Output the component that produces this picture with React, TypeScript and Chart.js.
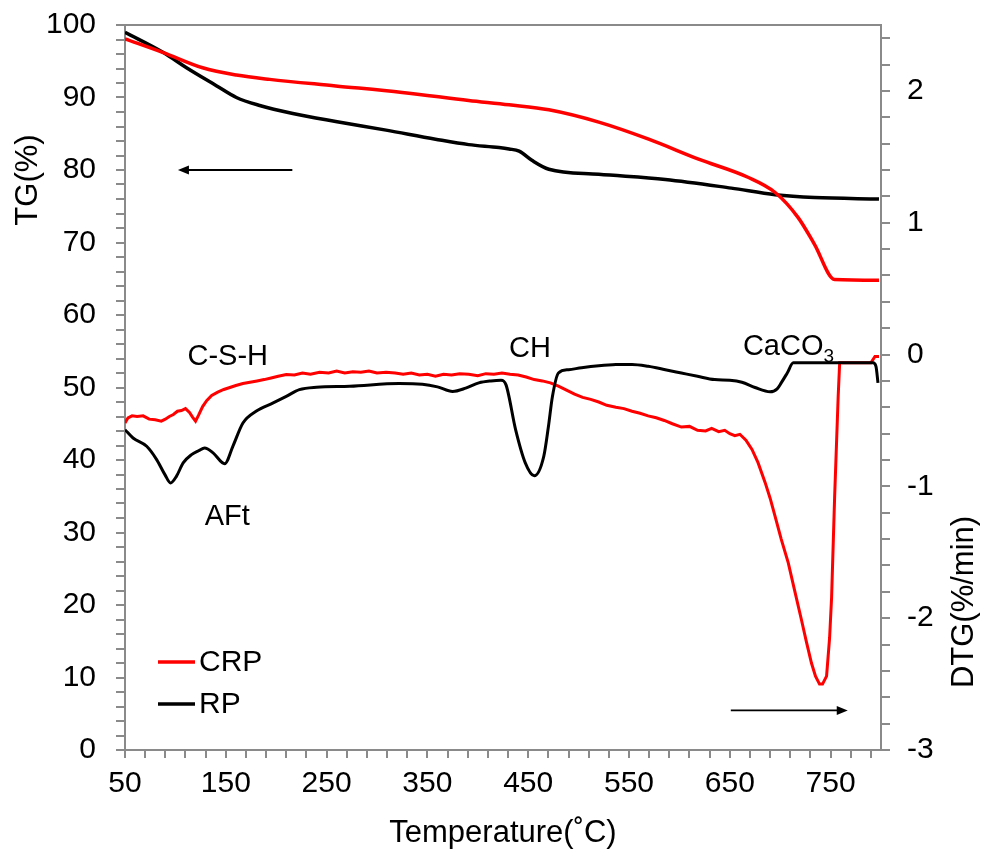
import React, { useEffect, useRef } from "react";
import { Chart, registerables } from "chart.js";

Chart.register(...registerables);

// ---------- data (temperature in °C) ----------
const TG_CRP_T = [50, 88, 127, 160.5, 193.5, 259, 325, 391, 431, 470.5, 520, 569.5, 619, 668, 695, 718, 734, 754, 798];
const TG_CRP = [98.1, 96.2, 94.1, 93.1, 92.5, 91.6, 90.7, 89.6, 89.0, 88.3, 86.6, 84.25, 81.5, 79.0, 76.9, 73.4, 69.75, 64.9, 64.8];

const TG_RP_T = [50, 88, 111, 141, 160.5, 183.6, 216.5, 259, 309, 358, 391, 421, 431, 441, 454, 470.5, 520, 586, 651.5, 695, 734, 798];
const TG_RP = [99.0, 96.2, 94.1, 91.6, 90.0, 88.9, 87.8, 86.7, 85.5, 84.25, 83.5, 83.1, 82.9, 82.6, 81.3, 80.1, 79.4, 78.7, 77.5, 76.6, 76.2, 76.0];

const DTG_CRP_T = [50, 53, 57, 62, 68, 74, 80, 86, 90, 94, 98, 102, 106, 110, 114, 117, 120, 123, 127, 131, 136, 142, 148, 154, 160, 167, 174, 181, 188, 195, 202, 210, 218, 226, 234, 243, 252, 260, 268, 276, 284, 292, 300, 309, 318, 326, 334, 342, 350, 358, 366, 374, 382, 391, 400, 408, 416, 424, 432, 440, 448, 456, 464, 472, 480, 488, 496, 504, 512, 520, 528, 537, 545, 553, 561, 569, 577, 585, 593, 602, 610, 618, 626, 632, 639, 645, 650, 655, 660, 666, 672, 678, 685, 690, 695, 701, 708, 714, 721, 726, 731, 735, 739, 742, 746, 749, 751, 754, 757.5, 759, 775, 790, 794, 798];
const DTG_CRP = [-0.52, -0.48, -0.465, -0.47, -0.465, -0.49, -0.495, -0.505, -0.49, -0.47, -0.455, -0.43, -0.425, -0.41, -0.44, -0.475, -0.505, -0.46, -0.395, -0.35, -0.31, -0.285, -0.265, -0.25, -0.235, -0.22, -0.21, -0.2, -0.19, -0.178, -0.165, -0.152, -0.155, -0.14, -0.15, -0.135, -0.14, -0.125, -0.14, -0.13, -0.135, -0.125, -0.14, -0.135, -0.14, -0.15, -0.14, -0.155, -0.15, -0.165, -0.15, -0.155, -0.145, -0.15, -0.16, -0.145, -0.15, -0.14, -0.15, -0.155, -0.17, -0.19, -0.2, -0.215, -0.24, -0.27, -0.3, -0.325, -0.34, -0.36, -0.385, -0.4, -0.41, -0.43, -0.445, -0.465, -0.48, -0.5, -0.525, -0.55, -0.545, -0.575, -0.58, -0.56, -0.585, -0.575, -0.6, -0.615, -0.605, -0.65, -0.72, -0.82, -0.97, -1.09, -1.23, -1.4, -1.58, -1.78, -2.01, -2.18, -2.34, -2.44, -2.5, -2.5, -2.44, -2.15, -1.84, -1.08, -0.32, -0.063, -0.063, -0.063, -0.015, -0.015];

const DTG_RP_T = [50, 58, 71.5, 81.4, 89.6, 95.2, 101, 107.7, 116, 123, 129, 137.4, 148.9, 157, 167, 180, 197, 210, 223, 240, 273, 322, 345, 360, 375, 388, 401, 413, 423, 428, 437.5, 447, 456, 465.5, 470, 474, 480, 490, 503, 520, 537, 553, 569, 586, 602, 618, 635, 650, 662, 675, 690, 697, 701, 707, 713, 730, 751, 770, 792, 795, 797];
const DTG_RP = [-0.57, -0.633, -0.696, -0.797, -0.911, -0.974, -0.924, -0.822, -0.759, -0.73, -0.709, -0.746, -0.828, -0.696, -0.519, -0.43, -0.367, -0.317, -0.266, -0.248, -0.241, -0.22, -0.225, -0.245, -0.28, -0.255, -0.215, -0.2, -0.195, -0.23, -0.57, -0.82, -0.92, -0.77, -0.55, -0.32, -0.14, -0.115, -0.1, -0.085, -0.076, -0.075, -0.089, -0.115, -0.14, -0.165, -0.19, -0.195, -0.21, -0.25, -0.283, -0.26, -0.215, -0.14, -0.063, -0.063, -0.063, -0.063, -0.063, -0.09, -0.215];

// ---------- tick labels ----------
const X_LABELS = [50, 150, 250, 350, 450, 550, 650, 750];
const X_MINOR_STEP = 20;
const Y_LABELS = [0, 10, 20, 30, 40, 50, 60, 70, 80, 90, 100];
const Y_MINOR_STEP = 2;
const Y2_LABELS = [-3, -2, -1, 0, 1, 2];
const Y2_MINOR_STEP = 0.2;

const FONT = "'Liberation Sans', Arial, Helvetica, sans-serif";
const AXIS_COLOR = "#8a8a8a";
const RED = "#ff0000";
const BLACK = "#000000";

function pts(xs: number[], ys: number[]) {
  return xs.map((x, i) => ({ x, y: ys[i] }));
}

function range(min: number, max: number, step: number) {
  const out: number[] = [];
  const n = Math.round((max - min) / step);
  for (let i = 0; i <= n; i++) out.push(Math.round((min + i * step) * 1000) / 1000);
  return out;
}

function zeroPad(s: any) {
  s.paddingTop = 0;
  s.paddingBottom = 0;
  s.paddingLeft = 0;
  s.paddingRight = 0;
}

function arrow(ctx: CanvasRenderingContext2D, x0: number, y0: number, x1: number, y1: number) {
  const dir = Math.sign(x1 - x0);
  ctx.beginPath();
  ctx.moveTo(x0, y0);
  ctx.lineTo(x1 - dir * 8, y1);
  ctx.stroke();
  ctx.beginPath();
  ctx.moveTo(x1, y1);
  ctx.lineTo(x1 - dir * 11, y1 - 4.5);
  ctx.lineTo(x1 - dir * 11, y1 + 4.5);
  ctx.closePath();
  ctx.fill();
}

const annotPlugin = {
  id: "annot",
  afterDraw(chart: any) {
    const { ctx, chartArea: ca, scales } = chart;
    const sx = scales.x, sy = scales.y, sy2 = scales.y2;
    ctx.save();
    // top frame
    ctx.strokeStyle = AXIS_COLOR;
    ctx.lineWidth = 2;
    ctx.beginPath();
    ctx.moveTo(ca.left, ca.top);
    ctx.lineTo(ca.right + 1, ca.top);
    ctx.stroke();

    // peak annotations
    ctx.fillStyle = BLACK;
    ctx.textAlign = "left";
    ctx.textBaseline = "alphabetic";
    ctx.font = `29px ${FONT}`;
    ctx.fillText("C-S-H", sx.getPixelForValue(112), sy2.getPixelForValue(-0.076));
    ctx.fillText("AFt", sx.getPixelForValue(129), sy2.getPixelForValue(-1.29));
    ctx.fillText("CH", sx.getPixelForValue(431), sy2.getPixelForValue(-0.015));
    const cx = sx.getPixelForValue(663);
    const cy = sy2.getPixelForValue(0);
    ctx.fillText("CaCO", cx, cy);
    const w = ctx.measureText("CaCO").width;
    ctx.font = `19px ${FONT}`;
    ctx.fillText("3", cx + w, cy + 7);

    // arrows
    ctx.strokeStyle = BLACK;
    ctx.fillStyle = BLACK;
    ctx.lineWidth = 1.8;
    arrow(ctx, sx.getPixelForValue(216), sy.getPixelForValue(80), sx.getPixelForValue(102.5), sy.getPixelForValue(80));
    arrow(ctx, sx.getPixelForValue(651), sy2.getPixelForValue(-2.7), sx.getPixelForValue(767), sy2.getPixelForValue(-2.7));

    // legend
    const lx = ca.left + 33;
    const rows = [
      { label: "CRP", color: RED, y: ca.bottom - 88 },
      { label: "RP", color: BLACK, y: ca.bottom - 46 },
    ];
    ctx.font = `30px ${FONT}`;
    ctx.textBaseline = "middle";
    rows.forEach((r) => {
      ctx.strokeStyle = r.color;
      ctx.lineWidth = 3.5;
      ctx.beginPath();
      ctx.moveTo(lx, r.y);
      ctx.lineTo(lx + 37, r.y);
      ctx.stroke();
      ctx.fillStyle = BLACK;
      ctx.fillText(r.label, lx + 41, r.y + 1);
    });

    // axis titles
    ctx.font = `31px ${FONT}`;
    ctx.textAlign = "center";
    ctx.textBaseline = "alphabetic";
    ctx.fillText("Temperature(˚C)", (ca.left + ca.right) / 2, ca.bottom + 92);
    ctx.textBaseline = "middle";
    ctx.save();
    ctx.translate(28, 180);
    ctx.rotate(-Math.PI / 2);
    ctx.fillText("TG(%)", 0, 0);
    ctx.restore();
    ctx.save();
    ctx.translate(964, 602);
    ctx.rotate(-Math.PI / 2);
    ctx.fillText("DTG(%/min)", 0, 0);
    ctx.restore();
    ctx.restore();
  },
};

export default function App() {
  const ref = useRef<HTMLCanvasElement>(null);
  useEffect(() => {
    const canvas = ref.current;
    if (!canvas) return;
    const tickFont = { family: FONT, size: 30 };
    const chart = new Chart(canvas, {
      type: "line",
      data: {
        datasets: [
          {
            label: "RP DTG",
            data: pts(DTG_RP_T, DTG_RP),
            yAxisID: "y2",
            borderColor: BLACK,
            borderWidth: 3,
            pointRadius: 0,
            cubicInterpolationMode: "monotone",
          },
          {
            label: "CRP DTG",
            data: pts(DTG_CRP_T, DTG_CRP),
            yAxisID: "y2",
            borderColor: RED,
            borderWidth: 3,
            pointRadius: 0,
            tension: 0,
          },
          {
            label: "CRP",
            data: pts(TG_CRP_T, TG_CRP),
            yAxisID: "y",
            borderColor: RED,
            borderWidth: 3.5,
            pointRadius: 0,
            cubicInterpolationMode: "monotone",
          },
          {
            label: "RP",
            data: pts(TG_RP_T, TG_RP),
            yAxisID: "y",
            borderColor: BLACK,
            borderWidth: 3.5,
            pointRadius: 0,
            cubicInterpolationMode: "monotone",
          },
        ],
      },
      options: {
        animation: false,
        responsive: false,
        maintainAspectRatio: false,
        layout: { padding: { top: 25, left: 0, right: 0, bottom: 0 } },
        plugins: { legend: { display: false }, tooltip: { enabled: false } },
        scales: {
          x: {
            type: "linear",
            min: 50,
            max: 800,
            afterBuildTicks: (s: any) => {
              s.ticks = range(50, 790, X_MINOR_STEP).map((v) => ({ value: v }));
            },
            afterFit: (s: any) => {
              s.height = 103;
              zeroPad(s);
            },
            ticks: {
              autoSkip: false,
              maxRotation: 0,
              minRotation: 0,
              color: BLACK,
              font: tickFont,
              padding: 8,
              callback: (v: any) => (X_LABELS.includes(Number(v)) ? String(v) : ""),
            },
            grid: { drawOnChartArea: false, tickLength: 8, color: AXIS_COLOR, lineWidth: 2 },
            border: { display: true, color: AXIS_COLOR, width: 2 },
          },
          y: {
            position: "left",
            min: 0,
            max: 100,
            afterBuildTicks: (s: any) => {
              s.ticks = range(0, 100, Y_MINOR_STEP).map((v) => ({ value: v }));
            },
            afterFit: (s: any) => {
              s.width = 125;
              zeroPad(s);
            },
            ticks: {
              autoSkip: false,
              color: BLACK,
              font: tickFont,
              padding: 20,
              callback: (v: any) => (Y_LABELS.includes(Number(v)) ? String(v) : ""),
            },
            grid: { drawOnChartArea: false, tickLength: 9, color: AXIS_COLOR, lineWidth: 2 },
            border: { display: true, color: AXIS_COLOR, width: 2 },
          },
          y2: {
            position: "right",
            min: -3,
            max: 2.5,
            afterBuildTicks: (s: any) => {
              s.ticks = range(-3, 2.4, Y2_MINOR_STEP).map((v) => ({ value: v }));
            },
            afterFit: (s: any) => {
              s.width = 103;
              zeroPad(s);
            },
            ticks: {
              autoSkip: false,
              color: BLACK,
              font: tickFont,
              padding: 17,
              callback: (v: any) => (Y2_LABELS.includes(Number(v)) ? String(v) : ""),
            },
            grid: { drawOnChartArea: false, tickLength: 9, color: AXIS_COLOR, lineWidth: 2 },
            border: { display: true, color: AXIS_COLOR, width: 2 },
          },
        },
      } as any,
      plugins: [annotPlugin],
    });
    return () => chart.destroy();
  }, []);
  return (
    <div style={{ position: "fixed", left: 0, top: 0, width: 984, height: 853, background: "#fff" }}>
      <canvas ref={ref} width={984} height={853} style={{ width: 984, height: 853, display: "block" }} />
    </div>
  );
}
